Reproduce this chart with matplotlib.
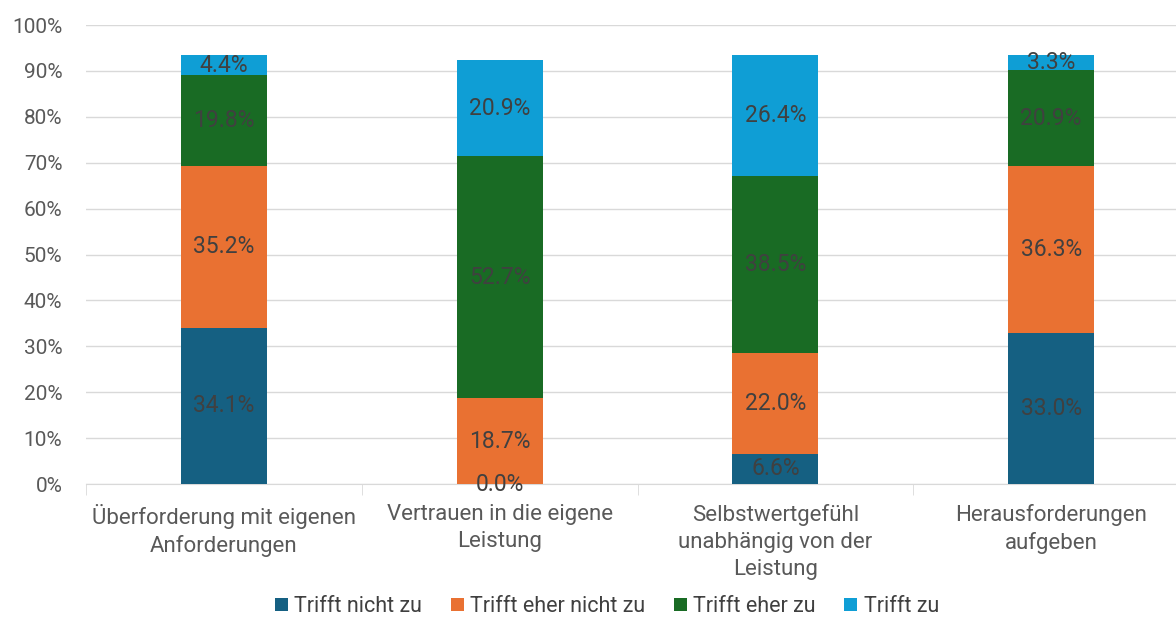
import matplotlib
matplotlib.use("Agg")
import matplotlib.pyplot as plt
import numpy as np

categories = ["Überforderung mit eigenen\nAnforderungen",
              "Vertrauen in die eigene\nLeistung",
              "Selbstwertgefühl\nunabhängig von der\nLeistung",
              "Herausforderungen\naufgeben"]
series_names = ["Trifft nicht zu", "Trifft eher nicht zu", "Trifft eher zu", "Trifft zu"]
trifft_nicht_zu = [34.1, 0.0, 6.6, 33.0]
trifft_eher_nicht_zu = [35.2, 18.7, 22.0, 36.3]
trifft_eher_zu = [19.8, 52.7, 38.5, 20.9]
trifft_zu = [4.4, 20.9, 26.4, 3.3]
colors = ["#156082", "#E97132", "#196B24", "#0F9ED5"]

plt.rcParams['font.family'] = ['Roboto', 'DejaVu Sans']
fig = plt.figure(figsize=(11.76, 6.19), dpi=100)
ax = fig.add_axes([0.0731, 0.218, 0.938, 0.7415])

x = np.arange(len(categories))
bottom = np.zeros(len(categories))
txt = "#404040"
for name, vals, c in zip(series_names, [trifft_nicht_zu, trifft_eher_nicht_zu, trifft_eher_zu, trifft_zu], colors):
    vals = np.array(vals)
    ax.bar(x, vals, 0.312, bottom=bottom, color=c, label=name, zorder=3)
    for xi, b, v in zip(x, bottom, vals):
        ax.text(xi, b + v / 2, f"{v:.1f}%", ha="center", va="center", fontsize=16.5, color=txt, zorder=4)
    bottom += vals

ax.set_xlim(-0.5, 3.5)
ax.set_ylim(0, 100)
ax.set_yticks(np.arange(0, 101, 10))
ax.set_yticklabels([f"{v}%" for v in range(0, 101, 10)], fontsize=15, color="#595959")
ax.grid(axis="y", color="#d9d9d9", linewidth=1, zorder=0)
ax.set_xticks(x)
ax.set_xticklabels(categories, fontsize=16, color="#595959", linespacing=1.38)
ax.tick_params(axis="x", length=0, pad=14)
ax.tick_params(axis="y", length=0, pad=17)
ax.set_xticks(np.arange(-0.5, 3.6, 1), minor=True)
ax.tick_params(axis="x", which="minor", length=8, color="#d9d9d9")
for s in ["top", "right", "left"]:
    ax.spines[s].set_visible(False)
ax.spines["bottom"].set_color("#d9d9d9")

fig.legend(loc="lower center", bbox_to_anchor=(0.516, -0.028), ncol=4, frameon=False,
           fontsize=15.5, handlelength=0.6, handleheight=0.6, handletextpad=0.3, columnspacing=1.33,
           labelcolor="#404040")

fig.savefig("out.png", dpi=100)
